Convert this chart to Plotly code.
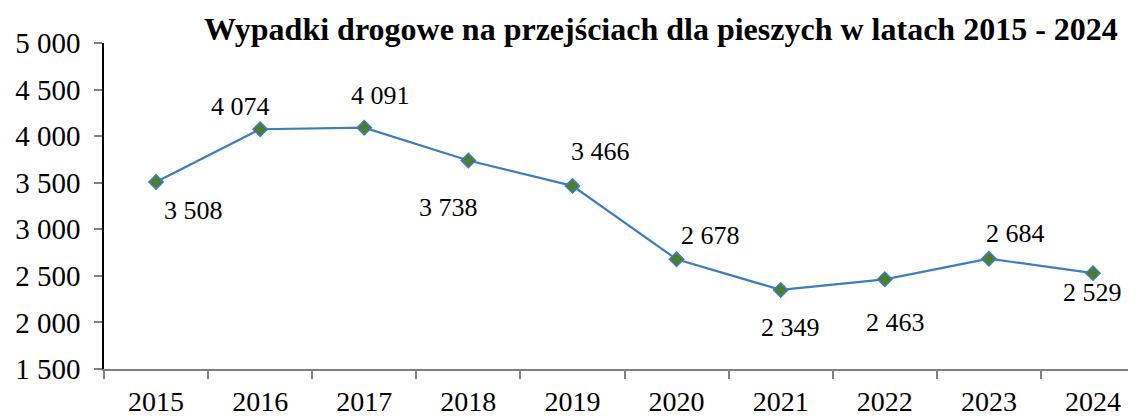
import plotly.graph_objects as go

years = ["2015", "2016", "2017", "2018", "2019", "2020", "2021", "2022", "2023", "2024"]
values = [3508, 4074, 4091, 3738, 3466, 2678, 2349, 2463, 2684, 2529]
label_text = ["3 508", "4 074", "4 091", "3 738", "3 466", "2 678", "2 349", "2 463", "2 684", "2 529"]
# label offsets in pixels (x right, y up)
label_dx = [37, -20, 16, -20, 28, 34, 10, 11, 27, -1]
label_dy = [-29, 23, 32, -47, 34, 24, -38, -43, 25, -19]

FONT = "Liberation Serif, Times New Roman, serif"

fig = go.Figure()
fig.add_trace(go.Scatter(
    x=years, y=values, mode="lines+markers",
    line=dict(color="#3b7dc0", width=2.2),
    marker=dict(symbol="diamond", size=11, color="#4e7d2c",
                line=dict(color="#3b7dc0", width=1.5)),
    hoverinfo="skip", showlegend=False,
))

for i, (v, t, dx, dy) in enumerate(zip(values, label_text, label_dx, label_dy)):
    fig.add_annotation(x=i, y=v, xref="x", yref="y", text=t, showarrow=False,
                       xshift=dx, yshift=dy,
                       font=dict(family=FONT, size=26, color="#000000"))

fig.add_annotation(text="<b>Wypadki drogowe na przejściach dla pieszych w latach 2015 - 2024</b>",
                   xref="paper", yref="paper", x=1.0, xanchor="right", y=1.0, yanchor="bottom",
                   yshift=-6, xshift=-16, showarrow=False,
                   font=dict(family=FONT, size=32, color="#000000"))

# page body has an 8px margin; figure is sized/offset to compensate
fig.update_layout(
    width=1128, height=408,
    margin=dict(l=96, r=0, t=35, b=47),
    paper_bgcolor="white", plot_bgcolor="white",
    separators=", ",
    font=dict(family=FONT, color="#000000"),
    xaxis=dict(
        type="category", range=[-0.5, 9.413],
        tickson="boundaries", ticks="outside", ticklen=8, tickcolor="#808080", tickwidth=1.5,
        showline=True, linecolor="#808080", linewidth=1.5,
        showgrid=False, zeroline=False, ticklabelstandoff=7,
        tickfont=dict(family=FONT, size=28, color="#000000"),
    ),
    yaxis=dict(
        range=[1500, 5000], dtick=500, tickformat=",d",
        ticks="outside", ticklen=8, tickcolor="#808080", tickwidth=1.5,
        showline=True, linecolor="#000000", linewidth=1.5,
        showgrid=False, zeroline=False, ticklabelstandoff=8,
        tickfont=dict(family=FONT, size=29, color="#000000"),
    ),
)

fig.write_html("out.html")
